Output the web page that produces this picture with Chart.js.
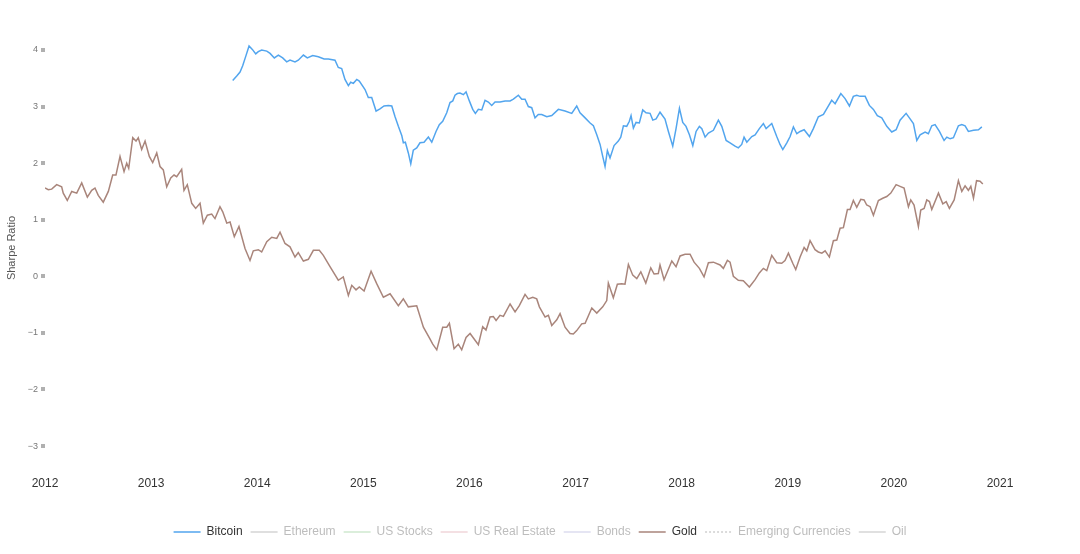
<!DOCTYPE html>
<html>
<head>
<meta charset="utf-8">
<script src="https://cdn.jsdelivr.net/npm/chart.js@4/dist/chart.umd.min.js"></script>
<style>
  html, body { margin: 0; padding: 0; background: #fff; }
  #wrap { width: 1080px; height: 554px; position: relative; }
</style>
</head>
<body>
<div id="wrap"><canvas id="c" width="1080" height="554"></canvas></div>
<script>
// ---- Data ----
const xTicks = [2012, 2013, 2014, 2015, 2016, 2017, 2018, 2019, 2020, 2021];
const yTicks = [-3, -2, -1, 0, 1, 2, 3, 4];

const seriesNames = ["Bitcoin", "Ethereum", "US Stocks", "US Real Estate", "Bonds", "Gold", "Emerging Currencies", "Oil"];

const btcYears = [
  2013.769, 2013.807, 2013.838, 2013.863, 2013.894, 2013.923, 2013.954, 2013.986, 2014.010, 2014.042,
  2014.090, 2014.121, 2014.161, 2014.199, 2014.240, 2014.278, 2014.309, 2014.356, 2014.387, 2014.435,
  2014.472, 2014.523, 2014.576, 2014.630, 2014.670, 2014.733, 2014.764, 2014.796, 2014.827, 2014.859,
  2014.881, 2014.906, 2014.938, 2014.962, 2015.016, 2015.047, 2015.079, 2015.120, 2015.157, 2015.195,
  2015.236, 2015.268, 2015.299, 2015.330, 2015.362, 2015.377, 2015.396, 2015.424, 2015.447, 2015.471,
  2015.503, 2015.534, 2015.572, 2015.613, 2015.645, 2015.685, 2015.716, 2015.748, 2015.786, 2015.817,
  2015.843, 2015.864, 2015.886, 2015.911, 2015.943, 2015.968, 2015.999, 2016.031, 2016.056, 2016.084,
  2016.116, 2016.147, 2016.178, 2016.210, 2016.241, 2016.288, 2016.336, 2016.383, 2016.414, 2016.461,
  2016.493, 2016.524, 2016.555, 2016.587, 2016.618, 2016.649, 2016.681, 2016.729, 2016.776, 2016.838,
  2016.901, 2016.964, 2017.011, 2017.042, 2017.090, 2017.137, 2017.168, 2017.200, 2017.231, 2017.256,
  2017.278, 2017.300, 2017.325, 2017.363, 2017.403, 2017.426, 2017.451, 2017.482, 2017.507, 2017.523,
  2017.545, 2017.570, 2017.601, 2017.633, 2017.664, 2017.702, 2017.728, 2017.759, 2017.796, 2017.843,
  2017.875, 2017.916, 2017.947, 2017.979, 2018.010, 2018.041, 2018.073, 2018.105, 2018.136, 2018.167,
  2018.190, 2018.221, 2018.252, 2018.299, 2018.346, 2018.378, 2018.419, 2018.456, 2018.503, 2018.534,
  2018.566, 2018.588, 2018.614, 2018.661, 2018.692, 2018.732, 2018.770, 2018.796, 2018.849, 2018.896,
  2018.927, 2018.953, 2018.991, 2019.022, 2019.053, 2019.085, 2019.116, 2019.154, 2019.204, 2019.241,
  2019.288, 2019.336, 2019.383, 2019.414, 2019.446, 2019.500, 2019.540, 2019.581, 2019.618, 2019.650,
  2019.681, 2019.729, 2019.769, 2019.807, 2019.844, 2019.886, 2019.933, 2019.980, 2020.021, 2020.058,
  2020.115, 2020.146, 2020.184, 2020.216, 2020.247, 2020.294, 2020.325, 2020.357, 2020.388, 2020.429,
  2020.473, 2020.499, 2020.530, 2020.561, 2020.608, 2020.640, 2020.671, 2020.702, 2020.750, 2020.797,
  2020.829
];
const btcValues = [
  3.46, 3.54, 3.61, 3.72, 3.90, 4.07, 4.01, 3.93, 3.97, 4.00,
  3.98, 3.94, 3.86, 3.91, 3.86, 3.79, 3.82, 3.79, 3.82, 3.91,
  3.86, 3.90, 3.88, 3.84, 3.84, 3.82, 3.69, 3.67, 3.48, 3.37,
  3.43, 3.41, 3.48, 3.45, 3.30, 3.16, 3.16, 2.92, 2.96, 3.01,
  3.02, 3.01, 2.82, 2.65, 2.49, 2.36, 2.37, 2.18, 1.99, 2.23,
  2.27, 2.36, 2.37, 2.46, 2.37, 2.56, 2.68, 2.74, 2.89, 3.07,
  3.10, 3.20, 3.23, 3.24, 3.21, 3.26, 3.10, 2.95, 2.88, 2.95,
  2.94, 3.11, 3.08, 3.02, 3.08, 3.08, 3.10, 3.10, 3.13, 3.20,
  3.13, 3.13, 3.00, 2.98, 2.80, 2.86, 2.86, 2.82, 2.84, 2.95,
  2.92, 2.88, 3.01, 2.89, 2.80, 2.71, 2.66, 2.50, 2.33, 2.12,
  1.94, 2.22, 2.09, 2.31, 2.39, 2.46, 2.66, 2.65, 2.74, 2.84,
  2.62, 2.72, 2.71, 2.94, 2.89, 2.88, 2.76, 2.78, 2.90, 2.78,
  2.56, 2.30, 2.61, 2.97, 2.72, 2.65, 2.50, 2.31, 2.56, 2.65,
  2.61, 2.46, 2.53, 2.58, 2.76, 2.65, 2.40, 2.36, 2.30, 2.27,
  2.33, 2.46, 2.37, 2.47, 2.50, 2.61, 2.70, 2.61, 2.70, 2.47,
  2.33, 2.24, 2.36, 2.47, 2.64, 2.52, 2.56, 2.59, 2.47, 2.61,
  2.82, 2.86, 3.01, 3.11, 3.05, 3.23, 3.14, 3.01, 3.18, 3.20,
  3.18, 3.18, 3.02, 2.95, 2.84, 2.80, 2.65, 2.55, 2.59, 2.76,
  2.88, 2.80, 2.70, 2.40, 2.50, 2.55, 2.52, 2.66, 2.68, 2.56,
  2.40, 2.46, 2.43, 2.45, 2.66, 2.68, 2.66, 2.56, 2.58, 2.59,
  2.64
];

const goldYears = [
  2012.000, 2012.031, 2012.063, 2012.110, 2012.157, 2012.172, 2012.210, 2012.252, 2012.299, 2012.346,
  2012.399, 2012.440, 2012.471, 2012.502, 2012.549, 2012.597, 2012.638, 2012.669, 2012.707, 2012.745,
  2012.770, 2012.789, 2012.827, 2012.858, 2012.879, 2012.911, 2012.943, 2012.983, 2013.015, 2013.053,
  2013.084, 2013.115, 2013.147, 2013.185, 2013.216, 2013.241, 2013.288, 2013.310, 2013.341, 2013.383,
  2013.420, 2013.461, 2013.492, 2013.530, 2013.571, 2013.602, 2013.649, 2013.675, 2013.713, 2013.744,
  2013.784, 2013.828, 2013.885, 2013.932, 2013.963, 2014.010, 2014.042, 2014.090, 2014.137, 2014.184,
  2014.215, 2014.262, 2014.309, 2014.356, 2014.387, 2014.435, 2014.482, 2014.529, 2014.585, 2014.623,
  2014.686, 2014.764, 2014.811, 2014.859, 2014.891, 2014.931, 2014.962, 2015.007, 2015.073, 2015.126,
  2015.189, 2015.252, 2015.330, 2015.377, 2015.424, 2015.503, 2015.566, 2015.629, 2015.654, 2015.692,
  2015.748, 2015.786, 2015.811, 2015.855, 2015.895, 2015.927, 2015.968, 2016.006, 2016.084, 2016.125,
  2016.156, 2016.194, 2016.225, 2016.251, 2016.288, 2016.320, 2016.383, 2016.430, 2016.470, 2016.524,
  2016.555, 2016.597, 2016.634, 2016.659, 2016.713, 2016.744, 2016.776, 2016.823, 2016.854, 2016.901,
  2016.948, 2016.979, 2017.011, 2017.058, 2017.090, 2017.153, 2017.200, 2017.256, 2017.294, 2017.309,
  2017.356, 2017.394, 2017.435, 2017.466, 2017.498, 2017.539, 2017.577, 2017.615, 2017.662, 2017.709,
  2017.740, 2017.780, 2017.796, 2017.834, 2017.907, 2017.947, 2017.985, 2018.032, 2018.079, 2018.117,
  2018.167, 2018.211, 2018.252, 2018.299, 2018.362, 2018.393, 2018.431, 2018.456, 2018.487, 2018.534,
  2018.581, 2018.638, 2018.692, 2018.732, 2018.770, 2018.802, 2018.849, 2018.896, 2018.943, 2018.974,
  2019.006, 2019.047, 2019.075, 2019.116, 2019.154, 2019.179, 2019.210, 2019.257, 2019.288, 2019.321,
  2019.352, 2019.392, 2019.430, 2019.462, 2019.493, 2019.524, 2019.562, 2019.587, 2019.618, 2019.650,
  2019.688, 2019.719, 2019.744, 2019.776, 2019.807, 2019.854, 2019.895, 2019.933, 2019.971, 2020.021,
  2020.058, 2020.096, 2020.137, 2020.159, 2020.190, 2020.231, 2020.253, 2020.285, 2020.310, 2020.335,
  2020.357, 2020.420, 2020.461, 2020.493, 2020.523, 2020.568, 2020.608, 2020.640, 2020.671, 2020.702,
  2020.725, 2020.750, 2020.779, 2020.812, 2020.838
];
const goldValues = [
  1.56, 1.53, 1.54, 1.62, 1.58, 1.47, 1.34, 1.50, 1.47, 1.65,
  1.40, 1.52, 1.56, 1.43, 1.31, 1.50, 1.79, 1.79, 2.12, 1.85,
  2.00, 1.91, 2.45, 2.39, 2.45, 2.24, 2.39, 2.12, 2.01, 2.18,
  1.94, 1.88, 1.58, 1.74, 1.79, 1.76, 1.89, 1.52, 1.62, 1.29,
  1.20, 1.29, 0.94, 1.08, 1.10, 1.02, 1.23, 1.14, 0.94, 0.96,
  0.70, 0.88, 0.49, 0.28, 0.45, 0.47, 0.43, 0.61, 0.69, 0.67,
  0.78, 0.58, 0.52, 0.34, 0.42, 0.27, 0.30, 0.46, 0.46, 0.37,
  0.17, -0.07, -0.01, -0.34, -0.16, -0.24, -0.19, -0.26, 0.09, -0.13,
  -0.37, -0.31, -0.52, -0.40, -0.54, -0.52, -0.90, -1.11, -1.20, -1.30,
  -0.90, -0.90, -0.83, -1.28, -1.20, -1.30, -1.08, -1.01, -1.21, -0.89,
  -0.95, -0.72, -0.71, -0.78, -0.69, -0.71, -0.49, -0.63, -0.52, -0.32,
  -0.40, -0.37, -0.40, -0.54, -0.72, -0.69, -0.87, -0.77, -0.66, -0.90,
  -1.01, -1.02, -0.96, -0.84, -0.83, -0.56, -0.65, -0.54, -0.43, -0.12,
  -0.38, -0.14, -0.13, -0.14, 0.21, 0.02, -0.04, 0.08, -0.12, 0.15,
  0.04, 0.05, 0.20, -0.06, 0.27, 0.17, 0.36, 0.39, 0.39, 0.25,
  0.14, -0.01, 0.24, 0.25, 0.20, 0.14, 0.28, 0.25, 0.00, -0.07,
  -0.08, -0.19, -0.06, 0.06, 0.14, 0.10, 0.37, 0.24, 0.23, 0.28,
  0.41, 0.23, 0.12, 0.34, 0.51, 0.45, 0.63, 0.47, 0.43, 0.41,
  0.45, 0.34, 0.63, 0.64, 0.85, 0.86, 1.18, 1.18, 1.34, 1.22,
  1.36, 1.35, 1.26, 1.23, 1.08, 1.34, 1.38, 1.41, 1.47, 1.62,
  1.59, 1.56, 1.23, 1.35, 1.26, 0.88, 1.17, 1.20, 1.35, 1.32,
  1.18, 1.47, 1.28, 1.32, 1.20, 1.35, 1.69, 1.50, 1.60, 1.52,
  1.59, 1.38, 1.69, 1.68, 1.63
];

// ---- Styles ----
const lineColors = ["#52a5ee", "#d4d4d4", "#cfe8cf", "#f0d6da", "#dcdcef", "#a9857b", "#d0d0d0", "#d6d6d6"];
const visible = [true, false, false, false, false, true, false, false];
const dashes = [[], [], [], [], [], [], [2, 2], []];

function toPoints(xs, ys) { return xs.map((x, i) => ({ x: x, y: ys[i] })); }

const seriesData = [toPoints(btcYears, btcValues), [], [], [], [], toPoints(goldYears, goldValues), [], []];

const datasets = seriesNames.map((name, i) => ({
  label: name,
  data: seriesData[i],
  borderColor: lineColors[i],
  backgroundColor: lineColors[i],
  borderWidth: 1.5,
  borderDash: dashes[i],
  pointRadius: 0,
  pointHoverRadius: 0,
  tension: 0,
  fill: false,
  hidden: !visible[i]
}));

Chart.defaults.font.family = "'Liberation Sans', Arial, sans-serif";

new Chart(document.getElementById('c'), {
  type: 'line',
  data: { datasets: datasets },
  options: {
    responsive: false,
    animation: false,
    layout: { padding: { left: 0, right: 0, top: 33, bottom: 6 } },
    plugins: {
      tooltip: { enabled: false },
      legend: {
        position: 'bottom',
        labels: {
          usePointStyle: true,
          pointStyle: 'line',
          pointStyleWidth: 27,
          padding: 8,
          font: { size: 12 },
          generateLabels: function (chart) {
            return chart.data.datasets.map((ds, i) => ({
              text: ds.label,
              fillStyle: lineColors[i],
              strokeStyle: lineColors[i],
              lineWidth: 1.5,
              lineDash: dashes[i],
              pointStyle: 'line',
              hidden: false,
              fontColor: visible[i] ? '#333333' : '#bdbdbd',
              datasetIndex: i
            }));
          }
        }
      }
    },
    scales: {
      x: {
        type: 'linear',
        min: 2012,
        max: 2021,
        grid: { display: false, drawTicks: false },
        border: { display: false },
        afterBuildTicks: function (scale) { scale.ticks = xTicks.map(v => ({ value: v })); },
        afterFit: function (scale) { scale.height = 55; scale.paddingRight = 80; },
        ticks: {
          padding: 13,
          color: '#333333',
          font: { size: 12 },
          maxRotation: 0,
          autoSkip: false,
          callback: function (v) { return String(v); }
        }
      },
      y: {
        type: 'linear',
        min: -3.3,
        max: 4.3,
        grid: { display: true, drawOnChartArea: false, drawTicks: true, tickLength: 4, lineWidth: 4, color: '#b0b0b0' },
        border: { display: false },
        afterBuildTicks: function (scale) { scale.ticks = yTicks.map(v => ({ value: v })); },
        afterFit: function (scale) { scale.width = 45; },
        title: {
          display: true,
          text: 'Sharpe Ratio',
          color: '#555555',
          font: { size: 11 },
          padding: { top: 5, bottom: 0 }
        },
        ticks: {
          padding: 3,
          color: '#777777',
          font: { size: 9 },
          autoSkip: false,
          callback: function (v) { return v < 0 ? '\u2212' + Math.abs(v) : String(v); }
        }
      }
    }
  }
});
</script>
</body>
</html>
